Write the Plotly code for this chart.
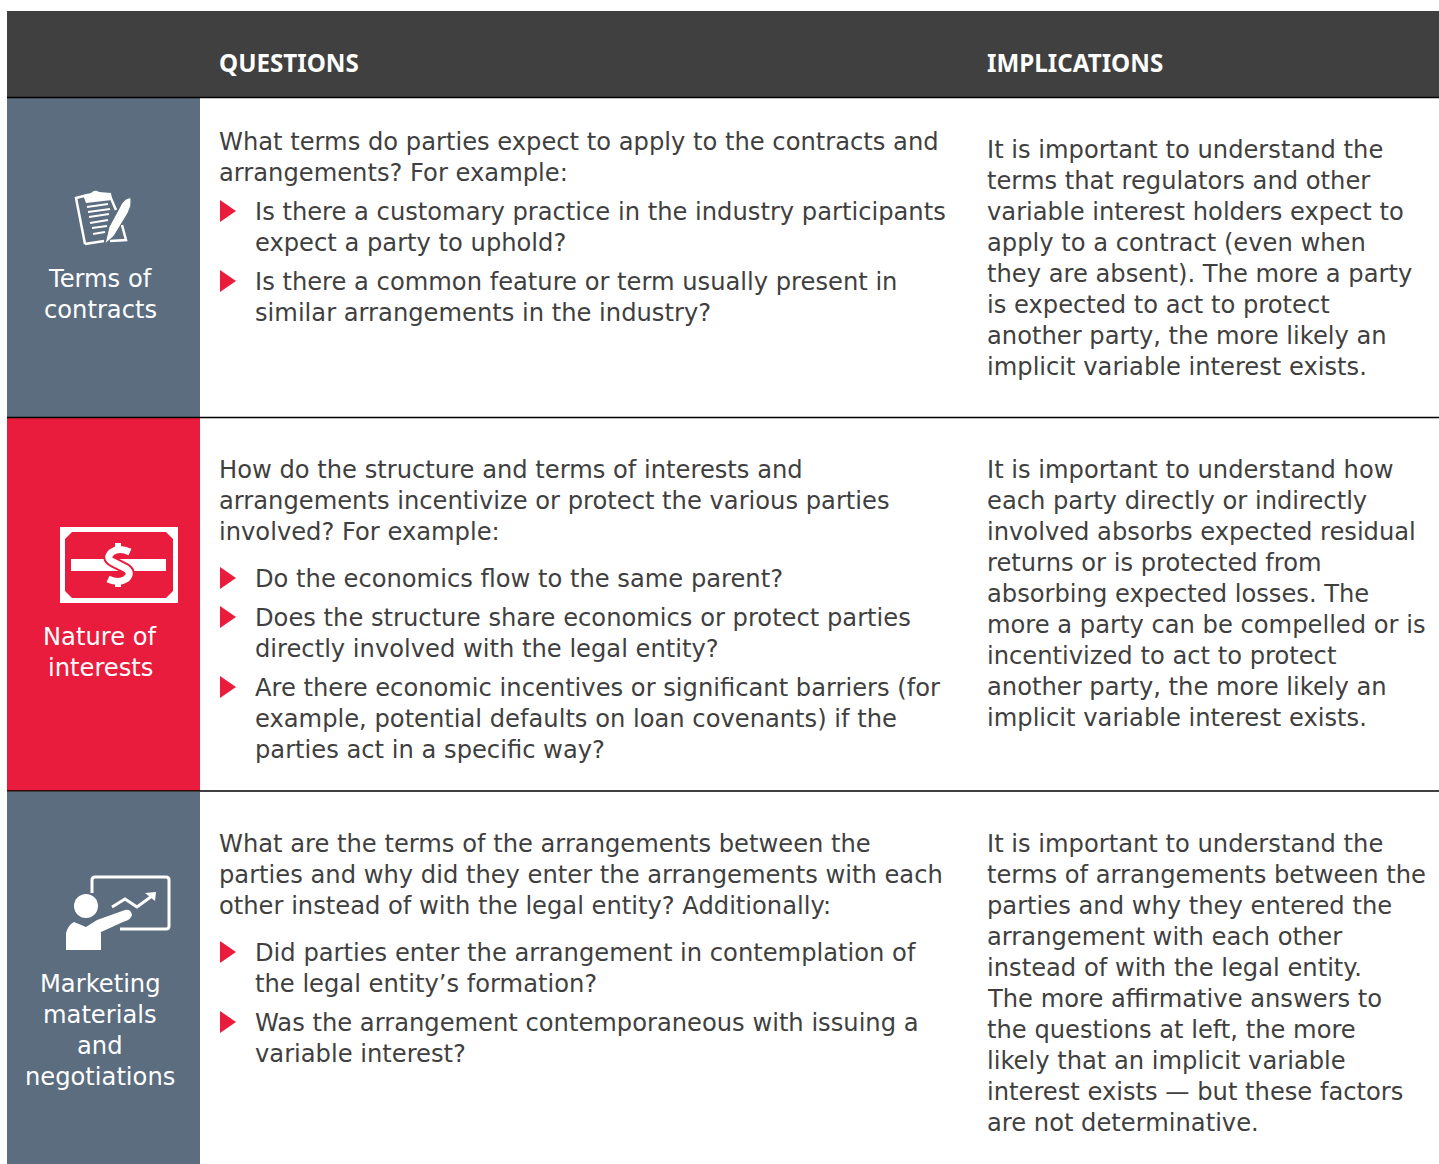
import plotly.graph_objects as go

# ---------- content ----------
headers = ["QUESTIONS", "IMPLICATIONS"]
row_labels = [
    ["Terms of", "contracts"],
    ["Nature of", "interests"],
    ["Marketing", "materials", "and", "negotiations"],
]
questions_1_intro = ["What terms do parties expect to apply to the contracts and", "arrangements? For example:"]
questions_1_b1 = ["Is there a customary practice in the industry participants", "expect a party to uphold?"]
questions_1_b2 = ["Is there a common feature or term usually present in", "similar arrangements in the industry?"]
questions_2_intro = ["How do the structure and terms of interests and",
                     "arrangements incentivize or protect the various parties",
                     "involved? For example:"]
questions_2_b1 = ["Do the economics flow to the same parent?"]
questions_2_b2 = ["Does the structure share economics or protect parties",
                  "directly involved with the legal entity?"]
questions_2_b3 = ["Are there economic incentives or significant barriers (for",
                  "example, potential defaults on loan covenants) if the",
                  "parties act in a specific way?"]
questions_3_intro = ["What are the terms of the arrangements between the",
                     "parties and why did they enter the arrangements with each",
                     "other instead of with the legal entity? Additionally:"]
questions_3_b1 = ["Did parties enter the arrangement in contemplation of",
                  "the legal entity’s formation?"]
questions_3_b2 = ["Was the arrangement contemporaneous with issuing a",
                  "variable interest?"]
implications_1 = ["It is important to understand the",
                  "terms that regulators and other",
                  "variable interest holders expect to",
                  "apply to a contract (even when",
                  "they are absent). The more a party",
                  "is expected to act to protect",
                  "another party, the more likely an",
                  "implicit variable interest exists."]
implications_2 = ["It is important to understand how",
                  "each party directly or indirectly",
                  "involved absorbs expected residual",
                  "returns or is protected from",
                  "absorbing expected losses. The",
                  "more a party can be compelled or is",
                  "incentivized to act to protect",
                  "another party, the more likely an",
                  "implicit variable interest exists."]
implications_3 = ["It is important to understand the",
                  "terms of arrangements between the",
                  "parties and why they entered the",
                  "arrangement with each other",
                  "instead of with the legal entity.",
                  "The more affirmative answers to",
                  "the questions at left, the more",
                  "likely that an implicit variable",
                  "interest exists — but these factors",
                  "are not determinative."]

# ---------- layout and style ----------
W, H = 1439, 1164
FONT = "DejaVu Sans"
SIZE = 24.2
PITCH = 31
DARK = "#404040"
SLATE = "#5B6D7F"
RED = "#E91C3D"
TEXT = "#3F3F3F"
LEFT, SIDE_R, Q_X, B_X, I_X = 7, 200, 217, 253, 985
W_ = "#FFFFFF"

shapes, annos = [], []


def rect(x0, y0, x1, y1, color, layer="below"):
    shapes.append(dict(type="rect", x0=x0, y0=y0, x1=x1, y1=y1, fillcolor=color, line_width=0, layer=layer))


def path(d, fill=None, stroke=None, width=0):
    s = dict(type="path", path=d, line=dict(width=width, color=stroke or "rgba(0,0,0,0)"))
    if fill:
        s["fillcolor"] = fill
    shapes.append(s)


def line(x, y, txt, color=TEXT, size=SIZE, anchor="left"):
    annos.append(dict(x=x, y=y, text=txt, xref="x", yref="y", xanchor=anchor, yanchor="middle",
                      showarrow=False, align=anchor, font=dict(family=FONT, size=size, color=color)))


def block(x, y0, lines, **kw):
    for i, t in enumerate(lines):
        line(x, y0 + 1 + i * PITCH, t, **kw)


def bullet(y):
    path(f"M220,{y-11} L236,{y} L220,{y+11} Z", fill=RED)


# bands
rect(LEFT, 11, W, 97, DARK)
rect(LEFT, 98, SIDE_R, 417, SLATE)
rect(LEFT, 418, SIDE_R, 791, RED)
rect(LEFT, 792, SIDE_R, H, SLATE)
for y in (97.5, 417.5, 791):
    shapes.append(dict(type="line", x0=LEFT, x1=W, y0=y, y1=y, line=dict(color="#000000", width=1.5)))

# header
annos.append(dict(x=Q_X, y=62, text=f"<b>{headers[0]}</b>", xref="x", yref="y", xanchor="left", yanchor="middle",
                  showarrow=False, font=dict(family="Noto Sans", size=24.2, color=W_)))
annos.append(dict(x=I_X, y=62, text=f"<b>{headers[1]}</b>", xref="x", yref="y", xanchor="left", yanchor="middle",
                  showarrow=False, font=dict(family="Noto Sans", size=24.2, color=W_)))

# side labels
CX = 100
block(CX, 278, row_labels[0], color=W_, anchor="center")
block(CX, 635.5, row_labels[1], color=W_, anchor="center")
block(CX, 983, row_labels[2], color=W_, anchor="center")

# questions
block(Q_X, 141, questions_1_intro)
bullet(211); block(B_X, 211, questions_1_b1)
bullet(281); block(B_X, 281, questions_1_b2)
block(Q_X, 469, questions_2_intro)
bullet(578); block(B_X, 578, questions_2_b1)
bullet(617); block(B_X, 617, questions_2_b2)
bullet(687); block(B_X, 687, questions_2_b3)
block(Q_X, 843, questions_3_intro)
bullet(952); block(B_X, 952, questions_3_b1)
bullet(1022); block(B_X, 1022, questions_3_b2)

# implications
block(I_X, 149, implications_1)
block(I_X, 469, implications_2)
block(I_X, 843, implications_3)

# icon: clipboard and pen
path("M85,244 L76,198 L88,195 M100,194 L110,196 L116,210 M122,225 L126,240 L110,241 M85,244 L104,241", stroke=W_, width=2.5)
path("M83,195 L91,193 Q95,189 99,192 L111,193 L112,200 L86,203 Z", fill=W_)
for a, b, c, d in [(87, 207, 108, 204), (88, 212, 110, 209), (89, 217, 109, 214),
                   (90, 223, 108, 220), (92, 228, 107, 226), (93, 234, 105, 232)]:
    path(f"M{a},{b} L{c},{d}", stroke=W_, width=2.2)
path("M105,244 L109,227 L122,203 Q127,197 131,198 Q132,206 128,213 L114,236 Z", fill=W_, stroke=SLATE, width=1)

# icon: money
path("M60,527 H178 V603 H60 Z M72,532 L65,539 V591 L72,598 H166 L173,591 V539 L166,532 Z", fill=W_)
rect(71, 559, 166, 571, W_, layer="above")
DOLLAR_S = "M130,552 Q119,547 112,552 Q105,558 113,562 L125,568 Q133,573 126,579 Q119,584 108,579"
path(DOLLAR_S, stroke=RED, width=11)
path(DOLLAR_S, stroke=W_, width=7)
path("M118,543 V550 M118,581 V587", stroke=W_, width=6)

# icon: presenter and chart
path("M92,893 V880 Q92,877 95,877 H166 Q169,877 169,880 V926 Q169,929 166,929 H120", stroke=W_, width=3)
path("M112,907 L125,899 L137,907 L152,896", stroke=W_, width=3)
path("M145,893 L156,892 L155,901 Z", fill=W_)
shapes.append(dict(type="circle", x0=74, y0=894, x1=98, y1=918, fillcolor=W_, line_width=0))
path("M66,950 V933 Q68,925 74,922 L86,927 L97,920 L125,910 Q131,909 132,915 Q131,920 123,922 L101,932 V950 Z", fill=W_)

fig = go.Figure()
fig.update_layout(
    width=W, height=H, margin=dict(l=0, r=0, t=0, b=0),
    paper_bgcolor=W_, plot_bgcolor=W_, showlegend=False,
    xaxis=dict(range=[0, W], visible=False, fixedrange=True),
    yaxis=dict(range=[H, 0], visible=False, fixedrange=True),
    shapes=shapes, annotations=annos,
)
fig.write_html("out.html", post_script="document.body.style.margin='0';", config={"displayModeBar": False})
